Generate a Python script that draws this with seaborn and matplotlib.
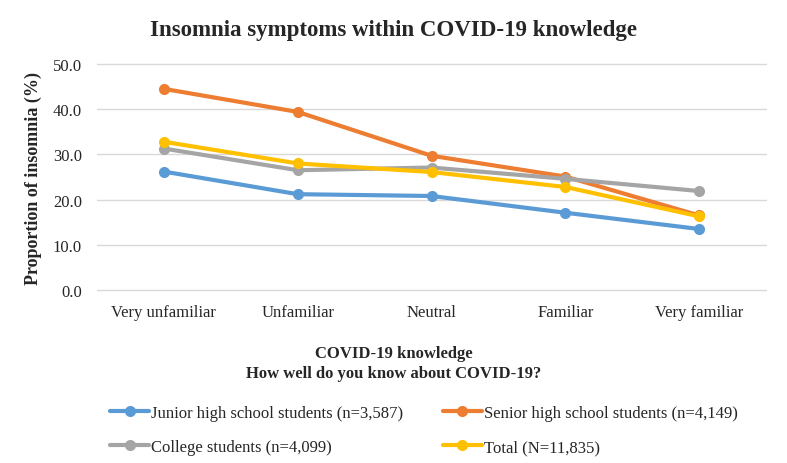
import pandas as pd
import matplotlib.pyplot as plt
import seaborn as sns

# categories on the x axis
knowledge = ['Very unfamiliar', 'Unfamiliar', 'Neutral', 'Familiar', 'Very familiar']

# proportion of insomnia (%) per group
junior = [26.2, 21.2, 20.8, 17.1, 13.5]
senior = [44.5, 39.4, 29.7, 25.1, 16.5]
college = [31.3, 26.5, 27.1, 24.6, 21.9]
total = [32.8, 28.0, 26.1, 22.8, 16.3]

groups = ['Junior high school students (n=3,587)',
          'Senior high school students (n=4,149)',
          'College students (n=4,099)',
          'Total (N=11,835)']
colors = ['#5B9BD5', '#ED7D31', '#A5A5A5', '#FFC000']


def main():
    rows = []
    for name, vals in zip(groups, [junior, senior, college, total]):
        for k, v in zip(knowledge, vals):
            rows.append({'Knowledge': k, 'Group': name, 'Value': v})
    df = pd.DataFrame(rows)

    sns.set_style('white')
    plt.rcParams['font.family'] = ['Liberation Serif', 'DejaVu Serif']

    fig = plt.figure(figsize=(7.87, 4.64), dpi=100)
    ax = fig.add_axes([0.1233, 0.3728, 0.85, 0.4871])

    sns.lineplot(data=df, x='Knowledge', y='Value', hue='Group', hue_order=groups,
                 palette=colors, marker='o', markersize=8, markeredgewidth=0,
                 linewidth=3, sort=False, ax=ax, legend=False)

    ax.set_ylim(0, 50)
    ax.set_yticks(range(0, 51, 10))
    ax.set_yticklabels([f'{t:.1f}' for t in range(0, 51, 10)])
    ax.set_xlim(-0.5, 4.5)
    ax.grid(axis='y', color='#D9D9D9', linewidth=1)
    ax.grid(axis='x', visible=False)
    for gl in ax.get_ygridlines():
        gl.set_clip_on(False)
    ax.set_axisbelow(True)
    for s in ax.spines.values():
        s.set_visible(False)
    ax.tick_params(axis='both', labelsize=12, length=0, colors='#262626')
    ax.tick_params(axis='x', pad=10)
    ax.tick_params(axis='y', pad=11)

    ax.set_xlabel('')
    ax.set_ylabel('Proportion of insomnia (%)', fontsize=13, fontweight='bold')
    ax.yaxis.set_label_coords(-0.083, 0.5)

    fig.text(0.5, 0.934, 'Insomnia symptoms within COVID-19 knowledge',
             ha='center', va='center', fontsize=16.5, fontweight='bold')
    fig.text(0.5, 0.2155, 'COVID-19 knowledge\nHow well do you know about COVID-19?',
             ha='center', va='center', fontsize=12, fontweight='bold', linespacing=1.35)

    handles = ax.get_lines()[:4]
    order = [0, 2, 1, 3]
    fig.legend([handles[i] for i in order], [groups[i] for i in order],
               ncol=2, loc='center', bbox_to_anchor=(0.539, 0.071), frameon=False,
               fontsize=12, handlelength=2.3, handletextpad=0.15, columnspacing=2.4,
               labelspacing=1.1)

    fig.savefig('out.png', dpi=100)


if __name__ == '__main__':
    main()
